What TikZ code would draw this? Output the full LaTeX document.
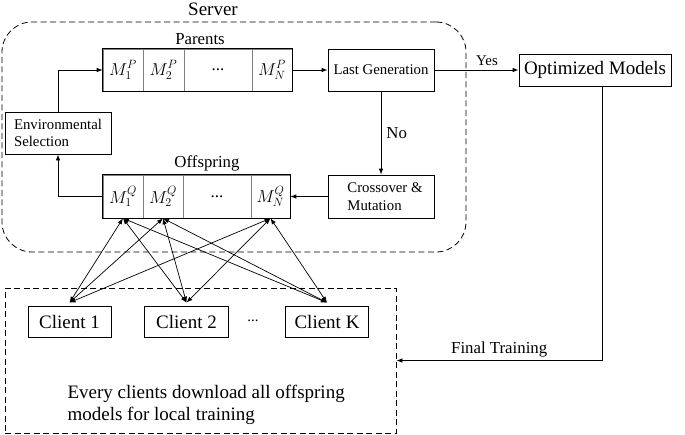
\documentclass[tikz,border=0pt]{standalone}
\usepackage{fontspec}
\setmainfont{Liberation Serif}
\usetikzlibrary{arrows.meta}
\begin{document}
\begin{tikzpicture}[x=1pt,y=-1pt,
 box/.style={draw, line width=0.8pt, inner sep=0pt, align=center},
 cell/.style={draw=gray, line width=0.6pt, inner sep=0pt, font=\fontsize{17}{20}\selectfont},
 arr/.style={-{Latex[length=6pt,width=4.5pt]}, line width=0.8pt},
 darr/.style={{Latex[length=6pt,width=4.5pt]}-{Latex[length=6pt,width=4.5pt]}, line width=0.7pt},
 dashbox/.style={draw, line width=0.8pt, dash pattern=on 6pt off 3.5pt, inner sep=0pt},
 fbig/.style={font=\fontsize{19}{22}\selectfont},
 fmid/.style={font=\fontsize{16.8}{20}\selectfont},
 fsml/.style={font=\fontsize{14.8}{17.5}\selectfont}]
\useasboundingbox (0,0) rectangle (685,434);

% server region
\node[dashbox, rounded corners=30pt, minimum width=464pt, minimum height=230pt] (server) at (234,137) {};
\node[fbig] (serverlbl) at (213,9) {Server};

% parents
\node[fmid] (parlbl) at (200,39) {Parents};
\node[cell, minimum width=40pt, minimum height=42pt] (p1) at (123,70) {$M_1^P$};
\node[cell, minimum width=41pt, minimum height=42pt] (p2) at (163.5,70) {$M_2^P$};
\node[cell, minimum width=68pt, minimum height=42pt] (pd) at (218,70) {...};
\node[cell, minimum width=40pt, minimum height=42pt] (pN) at (272,70) {$M_N^P$};
\draw[line width=0.8pt] (p1.north west) rectangle (pN.south east);

% offspring
\node[fmid] (offlbl) at (207,163) {Offspring};
\node[cell, minimum width=40pt, minimum height=43pt] (o1) at (123,196.5) {$M_1^Q$};
\node[cell, minimum width=40pt, minimum height=43pt] (o2) at (163,196.5) {$M_2^Q$};
\node[cell, minimum width=68pt, minimum height=43pt] (od) at (217,196.5) {...};
\node[cell, minimum width=39pt, minimum height=43pt] (oN) at (270.5,196.5) {$M_N^Q$};
\draw[line width=0.8pt] (o1.north west) rectangle (oN.south east);

% boxes
\node[box, fsml, align=left, minimum width=106pt, minimum height=42pt] (env) at (58,133) {Environmental\\Selection};
\node[box, fsml, minimum width=106pt, minimum height=42pt] (last) at (381,70) {Last Generation};
\node[box, fsml, align=left, minimum width=106pt, minimum height=43pt] (cross) at (381,196.5) {\hspace*{8pt}Crossover \&\\\hspace*{8pt}Mutation};
\node[box, fbig, minimum width=152pt, minimum height=32pt] (opt) at (595,70) {Optimized Models};

% arrows in server
\draw[arr] (env.north) |- (p1.west);
\draw[arr] (o1.west) -| (env.south);
\draw[arr] (pN.east) -- (last.west);
\draw[arr] (last.south) -- node[right, fmid, inner sep=5pt] (nolbl) {No} (cross.north);
\draw[arr] (cross.west) -- (oN.east);
\draw[arr] (last.east) -- (opt.west);
\node[fsml] (yeslbl) at (487,61) {Yes};

% clients
\node[dashbox, minimum width=391pt, minimum height=145pt] (cbox) at (200.5,360.5) {};
\node[box, fbig, minimum width=83pt, minimum height=31pt] (c1) at (69.5,321.5) {Client 1};
\node[box, fbig, minimum width=84pt, minimum height=31pt] (c2) at (186.5,321.5) {Client 2};
\node[fsml] (cdots) at (253,321) {...};
\node[box, fbig, minimum width=83pt, minimum height=31pt] (cK) at (327,321.5) {Client K};
\node[fbig, align=left, anchor=west] (note) at (64,405) {Every clients download all offspring\\models for local training};

\foreach \c in {c1,c2,cK}{
  \foreach \o in {o1,o2,oN}{
    \draw[darr] (\o.south) -- ([yshift=3pt]\c.north);
  }
}

% final training
\draw[arr] ([xshift=7pt]opt.south) |- node[pos=0.75, above, fmid, inner sep=3pt] (ftlbl) {Final Training} (cbox.east);
\end{tikzpicture}
\end{document}
